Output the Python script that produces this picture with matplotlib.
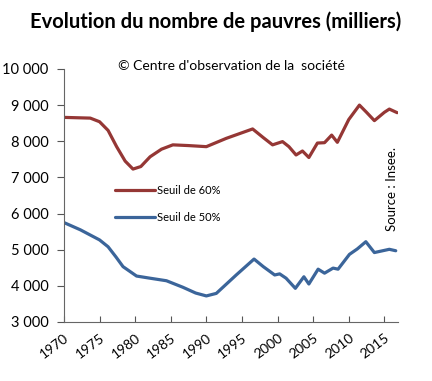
import matplotlib
matplotlib.use("Agg")
import matplotlib.pyplot as plt

plt.rcParams['font.family'] = ['Lato', 'DejaVu Sans']

# seuil de 60 %
years60 = [1970, 1973.7, 1975, 1976.2, 1977.4, 1978.6, 1979.7, 1980.8, 1982.1, 1983.7,
           1985.3, 1987.5, 1990, 1992.8, 1996.5, 1998, 1999.3, 2000.7, 2001.6, 2002.6,
           2003.5, 2004.4, 2005.6, 2006.6, 2007.6, 2008.4, 2010, 2011.5, 2012.5,
           2013.6, 2015, 2015.7, 2016.8]
pauvres60 = [8660, 8640, 8540, 8300, 7850, 7450, 7230, 7300, 7570, 7780,
             7900, 7880, 7850, 8080, 8340, 8100, 7900, 7990, 7850, 7620,
             7730, 7550, 7950, 7960, 8170, 7970, 8600, 9000, 8800,
             8570, 8800, 8890, 8790]

# seuil de 50 %
years50 = [1970, 1972.3, 1975, 1976.2, 1977.3, 1978.3, 1980.2, 1982.1, 1984.4, 1986.7,
           1988.5, 1990, 1991.4, 1994.2, 1996.7, 1998, 1999.6, 2000.3, 2001.2, 2002.5,
           2003.7, 2004.4, 2005.7, 2006.6, 2007.8, 2008.5, 2010.1, 2011.2, 2012.4,
           2013.6, 2015.7, 2016.6]
pauvres50 = [5750, 5550, 5270, 5080, 4800, 4530, 4270, 4210, 4140, 3960,
             3800, 3720, 3790, 4300, 4740, 4530, 4300, 4330, 4210, 3930,
             4250, 4050, 4460, 4350, 4490, 4460, 4870, 5020, 5220,
             4920, 5010, 4970]

ticks_x = [1970, 1975, 1980, 1985, 1990, 1995, 2000, 2005, 2010, 2015]
ticks_y = [3000, 4000, 5000, 6000, 7000, 8000, 9000, 10000]
labels_y = ['3 000', '4 000', '5 000', '6 000', '7 000', '8 000', '9 000', '10 000']

fig = plt.figure(figsize=(4.32, 3.81), dpi=100)
ax = fig.add_axes([0.148, 0.155, 0.773, 0.664])

ax.plot(years60, pauvres60, color='#953735', lw=2.3, label='Seuil de 60%', solid_capstyle='round')
ax.plot(years50, pauvres50, color='#3b659a', lw=2.3, label='Seuil de 50%', solid_capstyle='round')

ax.set_xlim(1970, 2016.9)
ax.set_ylim(3000, 10000)
ax.set_xticks(ticks_x)
ax.set_xticklabels([str(t) for t in ticks_x], rotation=37, ha='right',
                   rotation_mode='anchor', fontsize=10)
ax.set_yticks(ticks_y)
ax.set_yticklabels(labels_y, fontsize=10.5)
ax.tick_params(axis='x', direction='in', length=4, color='#555555', pad=7)
ax.tick_params(axis='y', direction='out', length=5, color='#555555', pad=6)
for s in ['top', 'right']:
    ax.spines[s].set_visible(False)
for s in ['left', 'bottom']:
    ax.spines[s].set_color('#666666')

ax.legend(loc='upper left', bbox_to_anchor=(0.135, 0.565), frameon=False, fontsize=8,
          handlelength=3.6, handletextpad=0.2, labelspacing=1.45, borderpad=0)

fig.text(0.5, 0.942, 'Evolution du nombre de pauvres (milliers)', ha='center', va='center',
         fontsize=14.5, fontweight='bold')
fig.text(0.535, 0.828, "\u00a9 Centre d'observation de la  soci\u00e9t\u00e9", ha='center',
         va='center', fontsize=10)
fig.text(0.907, 0.505, 'Source : Insee.', rotation=90, ha='center', va='center', fontsize=9.5)

fig.savefig('out.png', dpi=100)
